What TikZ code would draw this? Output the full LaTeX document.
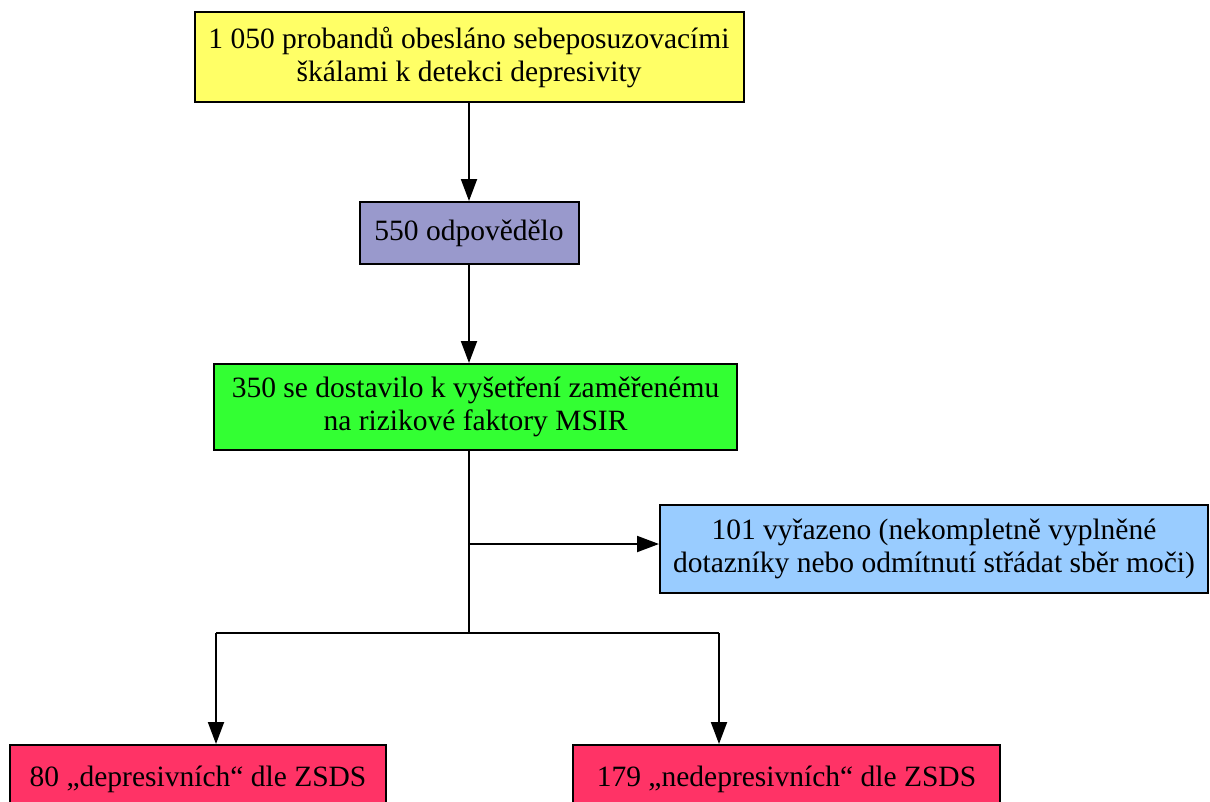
\documentclass[tikz,border=0pt]{standalone}
\usepackage{fontspec}
\setmainfont{Liberation Serif}
\usetikzlibrary{arrows.meta}
\definecolor{cyellow}{HTML}{FFFF66}
\definecolor{cpurple}{HTML}{9999CC}
\definecolor{cgreen}{HTML}{33FF33}
\definecolor{cblue}{HTML}{99CCFF}
\definecolor{cpink}{HTML}{FF3366}
\begin{document}
\begin{tikzpicture}[x=1pt,y=-1pt,
  box/.style={draw=black,line width=2pt,inner sep=0pt,align=center,
    font=\rmfamily\fontsize{29.5}{33}\selectfont},
  arr/.style={line width=2pt,-{Triangle[length=22pt,width=16pt]}},
  ln/.style={line width=2pt}]
\useasboundingbox (0,0) rectangle (1210,801);
\clip (0,0) rectangle (1210,801);
\node[box,fill=cyellow,minimum width=549pt,minimum height=90pt] (top) at (469,57)
  {1 050 probandů obesláno sebeposuzovacími\\škálami k detekci depresivity};
\node[box,fill=cpurple,minimum width=219pt,minimum height=62pt] (b2) at (469,233)
  {550 odpovědělo};
\node[box,fill=cgreen,minimum width=523pt,minimum height=86pt] (b3) at (475.5,407)
  {350 se dostavilo k vyšetření zaměřenému\\na rizikové faktory MSIR};
\node[box,fill=cblue,minimum width=548pt,minimum height=88pt] (bl) at (934,549)
  {101 vyřazeno (nekompletně vyplněné\\dotazníky nebo odmítnutí střádat sběr moči)};
\node[box,fill=cpink,minimum width=376pt,minimum height=68pt] (pl) at (198,779)
  {80 „depresivních“ dle ZSDS};
\node[box,fill=cpink,minimum width=427pt,minimum height=68pt] (pr) at (786.5,779)
  {179 „nedepresivních“ dle ZSDS};
\coordinate (b) at (469,544);
\coordinate (j) at (469,633);
\coordinate (jl) at (216,633);
\coordinate (jr) at (719,633);
\draw[arr] (top.south) -- (b2.north);
\draw[arr] (b2.south) -- (b3.north -| b2.south);
\draw[ln] (b3.south -| j) -- (j);
\draw[arr] (b) -- (b -| bl.west);
\draw[ln] (jl) -- (jr);
\draw[arr] (jl) -- (jl |- pl.north);
\draw[arr] (jr) -- (jr |- pr.north);
\end{tikzpicture}
\end{document}
